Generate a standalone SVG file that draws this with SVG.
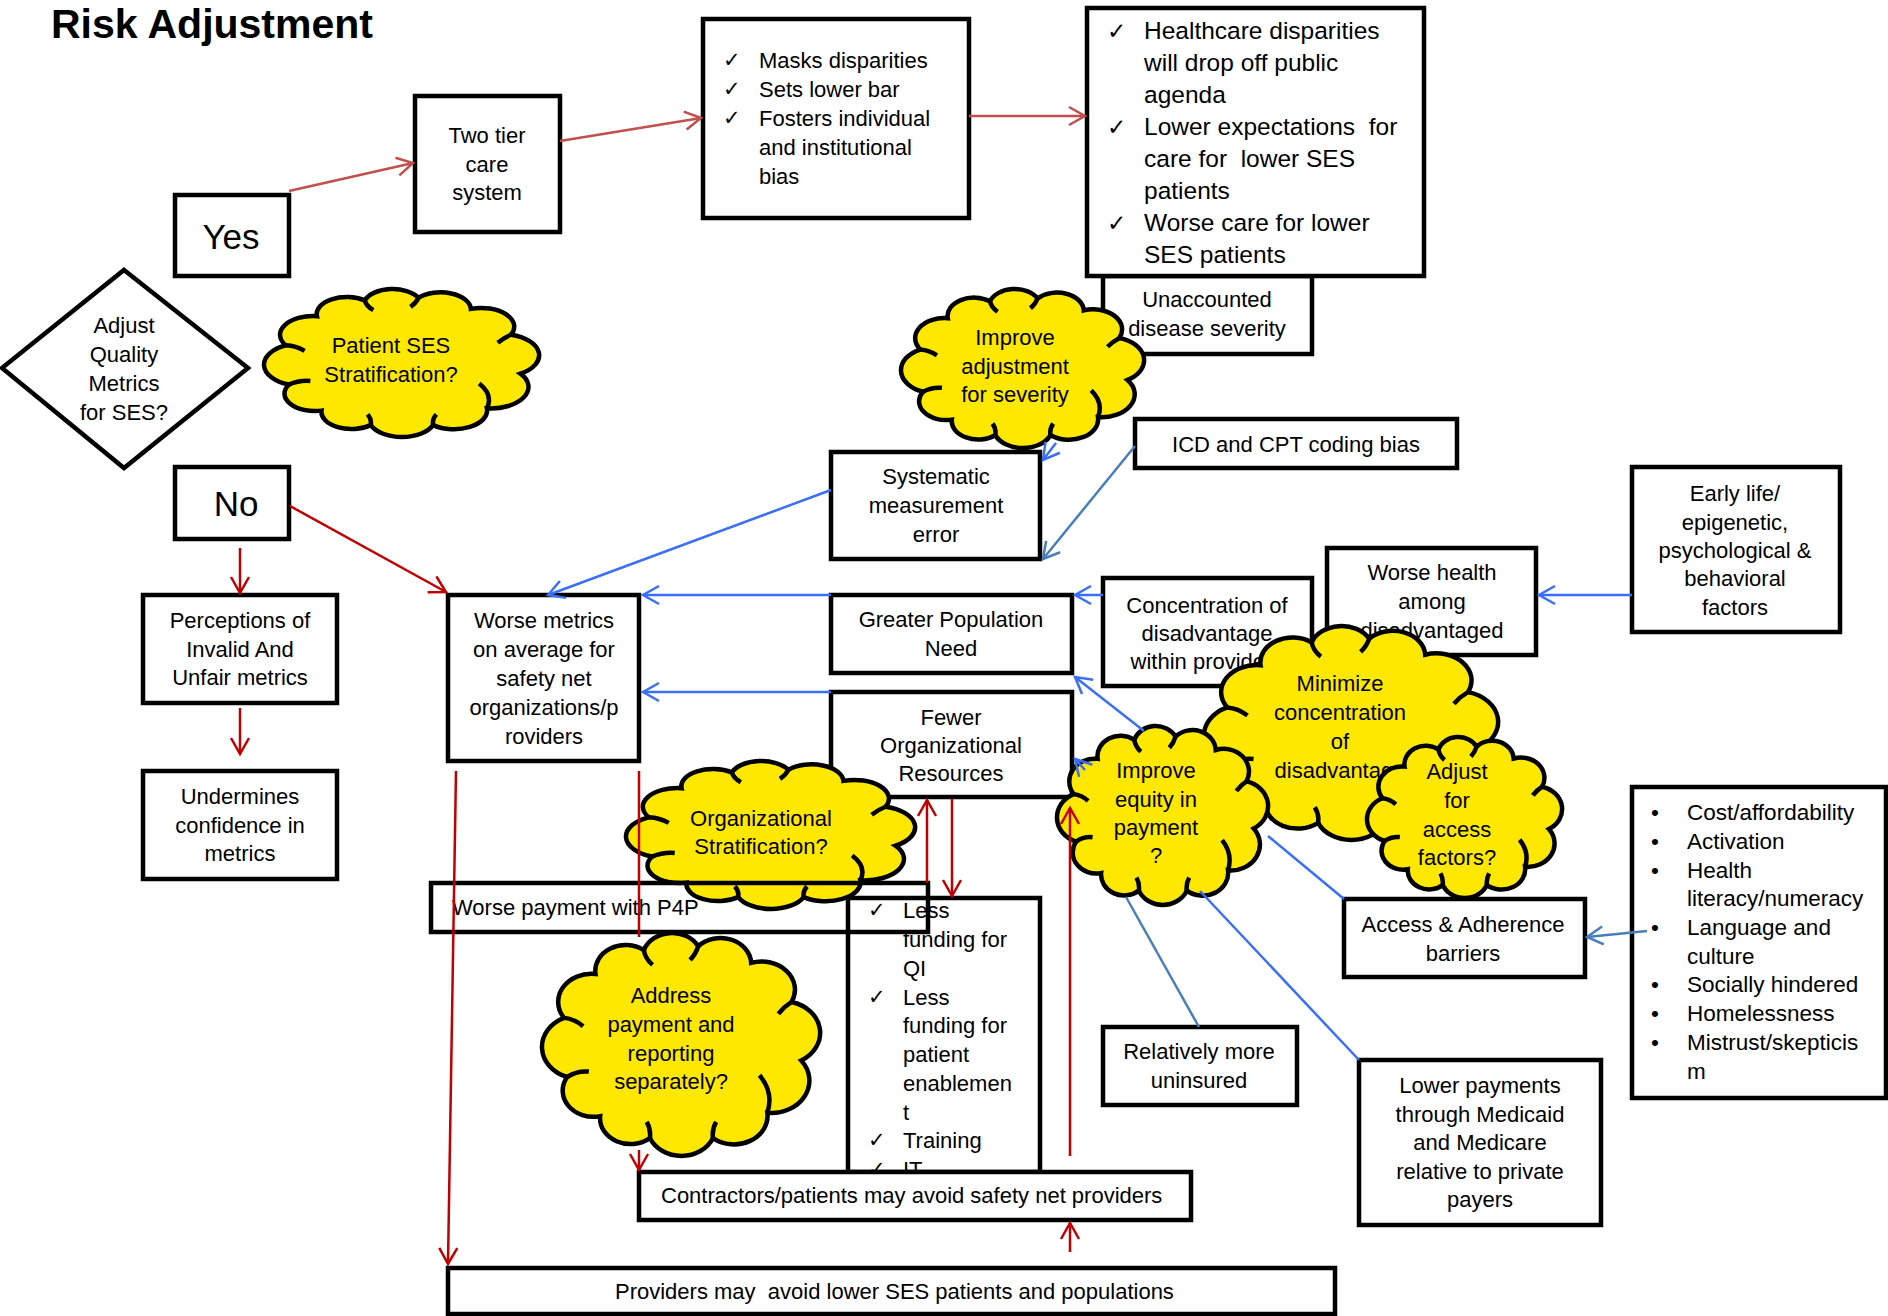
<svg xmlns="http://www.w3.org/2000/svg" xmlns:xlink="http://www.w3.org/1999/xlink" width="1888" height="1316" viewBox="0 0 1888 1316">
<style>
.box{fill:#fff;stroke:#000;stroke-width:4.5}
.open{fill:none;stroke:#000;stroke-width:4.5}
.t{font-family:"Liberation Sans",Arial,sans-serif;font-size:22px;fill:#000}
.c{text-anchor:middle}
.ck{font-family:"DejaVu Sans",sans-serif;font-size:23px}
.cl{fill:#ffe800;stroke:#000;stroke-width:4.5}
.tick{fill:none;stroke:#000;stroke-width:4.5;vector-effect:non-scaling-stroke}
.rl{fill:none;stroke:#c0504d;stroke-width:2.5}
.rd{fill:none;stroke:#c00000;stroke-width:2.5}
.bl{fill:none;stroke:#3a6ff7;stroke-width:2.5}
.st{fill:none;stroke:#4a7ebb;stroke-width:2.5}
</style>
<defs>
<marker id="aRL" markerUnits="userSpaceOnUse" viewBox="-19 -12 22 24" refX="0" refY="0" markerWidth="22" markerHeight="24" orient="auto"><path d="M-16,-9 L0,0 L-16,9" fill="none" stroke="#c0504d" stroke-width="2.5"/></marker>
<marker id="aRD" markerUnits="userSpaceOnUse" viewBox="-19 -12 22 24" refX="0" refY="0" markerWidth="22" markerHeight="24" orient="auto"><path d="M-16,-9 L0,0 L-16,9" fill="none" stroke="#c00000" stroke-width="2.5"/></marker>
<marker id="aBL" markerUnits="userSpaceOnUse" viewBox="-19 -12 22 24" refX="0" refY="0" markerWidth="22" markerHeight="24" orient="auto"><path d="M-16,-9 L0,0 L-16,9" fill="none" stroke="#3a6ff7" stroke-width="2.5"/></marker>
<marker id="aST" markerUnits="userSpaceOnUse" viewBox="-19 -12 22 24" refX="0" refY="0" markerWidth="22" markerHeight="24" orient="auto"><path d="M-16,-9 L0,0 L-16,9" fill="none" stroke="#4a7ebb" stroke-width="2.5"/></marker>
<symbol id="cloud" viewBox="1.8 5 96.1 90.9" preserveAspectRatio="none" overflow="visible">
<path class="cl" vector-effect="non-scaling-stroke" d="M10.5,63.7 A13,13 0 0 1 9.4,39.6 A11.5,11.5 0 0 1 20.3,21.7 A10.5,10.5 0 0 1 37,12 A10.3,10.3 0 0 1 55.8,10.4 A10.6,10.6 0 0 1 74.1,17.2 A11.5,11.5 0 0 1 88.1,33.1 A13,13 0 0 1 91.4,57 A13.2,13.2 0 0 1 79.7,78.3 A11.6,11.6 0 0 1 60.9,88.6 A11.8,11.8 0 0 1 39.1,88.6 A10.5,10.5 0 0 1 21.9,79.7 A10.7,10.7 0 0 1 10.5,63.7 Z"/>
<path class="tick" d="M9.4,39.6 Q13,40 16,43 M10.5,63.7 Q14,61 18,61.5 M37,12 Q37.5,15.5 40,18 M55.8,10.4 Q55,13.5 53,16 M88.1,33.1 Q85.5,35 83.5,38 M79.7,78.3 Q82,70 77,63 M60.9,88.6 Q60.5,85 62,82 M39.1,88.6 Q39.5,85 38,82"/>
</symbol>
</defs>
<rect width="1888" height="1316" fill="#fff"/>
<text x="51" y="38" style="font-family:'Liberation Sans',Arial,sans-serif;font-size:41px;font-weight:bold">Risk Adjustment</text>

<g id="unaccounted"><rect class="box" x="1103" y="276" width="209" height="78"/><text class="t c"><tspan x="1207" y="307">Unaccounted</tspan><tspan x="1207" y="336">disease severity</tspan></text></g>
<g id="healthcare"><rect class="box" x="1087" y="8" width="337" height="268"/>
<text class="ck"><tspan x="1107" y="39">✓</tspan><tspan x="1107" y="135">✓</tspan><tspan x="1107" y="231">✓</tspan></text>
<text class="t" style="font-size:24.5px;white-space:pre"><tspan x="1144" y="39">Healthcare disparities</tspan><tspan x="1144" y="71">will drop off public</tspan><tspan x="1144" y="103">agenda</tspan><tspan x="1144" y="135">Lower expectations  for</tspan><tspan x="1144" y="167">care for  lower SES</tspan><tspan x="1144" y="199">patients</tspan><tspan x="1144" y="231">Worse care for lower</tspan><tspan x="1144" y="263">SES patients</tspan></text></g>
<g id="yes"><rect class="box" x="175" y="195" width="114" height="81"/><text class="t c" style="font-size:35px" x="231" y="249">Yes</text></g>
<g id="two-tier"><rect class="box" x="415" y="96" width="145" height="136"/><text class="t c"><tspan x="487" y="143">Two tier</tspan><tspan x="487" y="172">care</tspan><tspan x="487" y="200">system</tspan></text></g>
<g id="masks"><rect class="box" x="703" y="19" width="266" height="199"/>
<text class="ck" style="font-size:21px"><tspan x="723" y="67">✓</tspan><tspan x="723" y="96">✓</tspan><tspan x="723" y="125">✓</tspan></text>
<text class="t"><tspan x="759" y="68">Masks disparities</tspan><tspan x="759" y="97">Sets lower bar</tspan><tspan x="759" y="126">Fosters individual</tspan><tspan x="759" y="155">and institutional</tspan><tspan x="759" y="184">bias</tspan></text></g>
<g id="decision"><polygon points="124,270 248,368 124,468 2,368" fill="#fff" stroke="#000" stroke-width="4.5"/><text class="t c"><tspan x="124" y="333">Adjust</tspan><tspan x="124" y="362">Quality</tspan><tspan x="124" y="391">Metrics</tspan><tspan x="124" y="420">for SES?</tspan></text></g>
<g id="no"><rect class="box" x="175" y="467" width="114" height="72"/><text class="t c" style="font-size:35px" x="236" y="516">No</text></g>
<g id="icd"><rect class="box" x="1135" y="419" width="322" height="49"/><text class="t c" x="1296" y="452">ICD and CPT coding bias</text></g>
<g id="systematic"><rect class="box" x="831" y="452" width="209" height="107"/><text class="t c"><tspan x="936" y="484">Systematic</tspan><tspan x="936" y="513">measurement</tspan><tspan x="936" y="542">error</tspan></text></g>
<g id="perceptions"><rect class="box" x="143" y="595" width="194" height="108"/><text class="t c"><tspan x="240" y="628">Perceptions of</tspan><tspan x="240" y="657">Invalid And</tspan><tspan x="240" y="685">Unfair metrics</tspan></text></g>
<g id="undermines"><rect class="box" x="143" y="771" width="194" height="108"/><text class="t c"><tspan x="240" y="804">Undermines</tspan><tspan x="240" y="833">confidence in</tspan><tspan x="240" y="861">metrics</tspan></text></g>
<g id="worse-metrics"><rect class="box" x="448" y="595" width="191" height="166"/><text class="t c"><tspan x="544" y="628">Worse metrics</tspan><tspan x="544" y="657">on average for</tspan><tspan x="544" y="686">safety net</tspan><tspan x="544" y="715">organizations/p</tspan><tspan x="544" y="744">roviders</tspan></text></g>
<g id="greater-pop"><rect class="box" x="831" y="595" width="241" height="78"/><text class="t c"><tspan x="951" y="627">Greater Population</tspan><tspan x="951" y="656">Need</tspan></text></g>
<g id="fewer"><rect class="box" x="831" y="692" width="241" height="105"/><text class="t c"><tspan x="951" y="725">Fewer</tspan><tspan x="951" y="753">Organizational</tspan><tspan x="951" y="781">Resources</tspan></text></g>
<g id="concentration"><rect class="box" x="1103" y="578" width="209" height="108"/><text class="t c"><tspan x="1207" y="613">Concentration of</tspan><tspan x="1207" y="641">disadvantage</tspan><tspan x="1207" y="669">within providers</tspan></text></g>
<g id="worse-health"><rect class="box" x="1327" y="548" width="209" height="107"/><text class="t c"><tspan x="1432" y="580">Worse health</tspan><tspan x="1432" y="609">among</tspan><tspan x="1432" y="638">disadvantaged</tspan></text></g>
<g id="early-life"><rect class="box" x="1632" y="467" width="208" height="165"/><text class="t c"><tspan x="1735" y="501">Early life/</tspan><tspan x="1735" y="530">epigenetic,</tspan><tspan x="1735" y="558">psychological &amp;</tspan><tspan x="1735" y="586">behavioral</tspan><tspan x="1735" y="615">factors</tspan></text></g>
<g id="access"><rect class="box" x="1344" y="899" width="241" height="78"/><text class="t c"><tspan x="1463" y="932">Access &amp; Adherence</tspan><tspan x="1463" y="961">barriers</tspan></text></g>
<g id="barrier-list"><rect class="box" x="1632" y="787" width="254" height="311"/>
<text class="t" style="font-size:22.5px"><tspan x="1651" y="820">•</tspan><tspan x="1651" y="849">•</tspan><tspan x="1651" y="878">•</tspan><tspan x="1651" y="935">•</tspan><tspan x="1651" y="992">•</tspan><tspan x="1651" y="1021">•</tspan><tspan x="1651" y="1050">•</tspan></text>
<text class="t" style="font-size:22.5px"><tspan x="1687" y="820">Cost/affordability</tspan><tspan x="1687" y="849">Activation</tspan><tspan x="1687" y="878">Health</tspan><tspan x="1687" y="906">literacy/numeracy</tspan><tspan x="1687" y="935">Language and</tspan><tspan x="1687" y="964">culture</tspan><tspan x="1687" y="992">Socially hindered</tspan><tspan x="1687" y="1021">Homelessness</tspan><tspan x="1687" y="1050">Mistrust/skepticis</tspan><tspan x="1687" y="1079">m</tspan></text></g>
<g id="uninsured"><rect class="box" x="1103" y="1027" width="194" height="78"/><text class="t c"><tspan x="1199" y="1059">Relatively more</tspan><tspan x="1199" y="1088">uninsured</tspan></text></g>
<g id="lower-payments"><rect class="box" x="1359" y="1060" width="242" height="165"/><text class="t c"><tspan x="1480" y="1093">Lower payments</tspan><tspan x="1480" y="1122">through Medicaid</tspan><tspan x="1480" y="1150">and Medicare</tspan><tspan x="1480" y="1179">relative to private</tspan><tspan x="1480" y="1207">payers</tspan></text></g>
<g id="less-funding"><rect class="box" x="848" y="898" width="192" height="274"/>
<text class="ck" style="font-size:21px"><tspan x="868" y="917">✓</tspan><tspan x="868" y="1004">✓</tspan><tspan x="868" y="1147">✓</tspan><tspan x="868" y="1176">✓</tspan></text>
<text class="t"><tspan x="903" y="918">Less</tspan><tspan x="903" y="947">funding for</tspan><tspan x="903" y="976">QI</tspan><tspan x="903" y="1005">Less</tspan><tspan x="903" y="1033">funding for</tspan><tspan x="903" y="1062">patient</tspan><tspan x="903" y="1091">enablemen</tspan><tspan x="903" y="1120">t</tspan><tspan x="903" y="1148">Training</tspan><tspan x="903" y="1177">IT</tspan></text></g>
<g id="contractors"><rect class="box" x="639" y="1172" width="552" height="48"/><text class="t" x="661" y="1203">Contractors/patients may avoid safety net providers</text></g>
<g id="providers"><rect class="box" x="448" y="1268" width="887" height="46"/><text class="t" x="615" y="1299" style="white-space:pre">Providers may  avoid lower SES patients and populations</text></g>

<g id="cloud-patient-ses"><use xlink:href="#cloud" href="#cloud" x="264" y="289" width="275" height="148"/><text class="t c"><tspan x="391" y="353">Patient SES</tspan><tspan x="391" y="382">Stratification?</tspan></text></g>
<g id="cloud-improve-adjustment"><use xlink:href="#cloud" href="#cloud" x="901" y="289" width="243" height="159"/><text class="t c"><tspan x="1015" y="345">Improve</tspan><tspan x="1015" y="374">adjustment</tspan><tspan x="1015" y="402">for severity</tspan></text></g>
<g id="cloud-org-strat"><use xlink:href="#cloud" href="#cloud" x="626" y="761" width="289" height="148"/><text class="t c"><tspan x="761" y="826">Organizational</tspan><tspan x="761" y="854">Stratification?</tspan></text></g>
<g id="cloud-minimize"><use xlink:href="#cloud" href="#cloud" x="1204" y="626" width="294" height="214"/><text class="t c"><tspan x="1340" y="691">Minimize</tspan><tspan x="1340" y="720">concentration</tspan><tspan x="1340" y="749">of</tspan><tspan x="1340" y="778">disadvantage</tspan></text></g>
<g id="cloud-equity"><use xlink:href="#cloud" href="#cloud" x="1057" y="726" width="211" height="179"/><text class="t c"><tspan x="1156" y="778">Improve</tspan><tspan x="1156" y="807">equity in</tspan><tspan x="1156" y="835">payment</tspan><tspan x="1156" y="863">?</tspan></text></g>
<g id="cloud-access"><use xlink:href="#cloud" href="#cloud" x="1367" y="737" width="195" height="161"/><text class="t c"><tspan x="1457" y="779">Adjust</tspan><tspan x="1457" y="808">for</tspan><tspan x="1457" y="837">access</tspan><tspan x="1457" y="865">factors?</tspan></text></g>
<g id="cloud-address"><use xlink:href="#cloud" href="#cloud" x="542" y="933" width="278" height="223"/><text class="t c"><tspan x="671" y="1003">Address</tspan><tspan x="671" y="1032">payment and</tspan><tspan x="671" y="1061">reporting</tspan><tspan x="671" y="1089">separately?</tspan></text></g>
<g id="p4p"><rect class="open" x="431" y="883" width="497" height="49"/><text class="t" x="452" y="915">Worse payment with P4P</text></g>

<g id="connectors">
<line class="rl" x1="289" y1="191" x2="413" y2="163" marker-end="url(#aRL)"/>
<line class="rl" x1="560" y1="141" x2="701" y2="118" marker-end="url(#aRL)"/>
<line class="rl" x1="969" y1="116" x2="1085" y2="116" marker-end="url(#aRL)"/>
<line class="rd" x1="240" y1="548" x2="240" y2="593" marker-end="url(#aRD)"/>
<line class="rd" x1="240" y1="708" x2="240" y2="754" marker-end="url(#aRD)"/>
<line class="rd" x1="290" y1="506" x2="446" y2="592" marker-end="url(#aRD)"/>
<line class="rd" x1="456" y1="771" x2="448" y2="1264" marker-end="url(#aRD)"/>
<line class="rd" x1="639" y1="771" x2="639" y2="937"/>
<line class="rd" x1="639" y1="1150" x2="639" y2="1170" marker-end="url(#aRD)"/>
<line class="rd" x1="927" y1="883" x2="927" y2="800" marker-end="url(#aRD)"/>
<line class="rd" x1="952" y1="799" x2="952" y2="896" marker-end="url(#aRD)"/>
<line class="rd" x1="1070" y1="1156" x2="1070" y2="808" marker-end="url(#aRD)"/>
<line class="rd" x1="1070" y1="1252" x2="1070" y2="1223" marker-end="url(#aRD)"/>
<line class="bl" x1="831" y1="490" x2="548" y2="595" marker-end="url(#aBL)"/>
<line class="bl" x1="831" y1="595" x2="643" y2="595" marker-end="url(#aBL)"/>
<line class="bl" x1="831" y1="692" x2="643" y2="692" marker-end="url(#aBL)"/>
<line class="bl" x1="1103" y1="595" x2="1075" y2="595" marker-end="url(#aBL)"/>
<line class="bl" x1="1632" y1="595" x2="1539" y2="595" marker-end="url(#aBL)"/>
<line class="bl" x1="1344" y1="899" x2="1268" y2="836"/>
<line class="bl" x1="1144" y1="731" x2="1075" y2="677" marker-end="url(#aBL)"/>
<line class="bl" x1="1359" y1="1060" x2="1200" y2="891"/>
<line class="bl" x1="1085" y1="770" x2="1075" y2="759" marker-end="url(#aBL)"/>
<line class="st" x1="1199" y1="1027" x2="1126" y2="897"/>
<line class="st" x1="1135" y1="446" x2="1043" y2="559" marker-end="url(#aST)"/>
<line class="bl" x1="1056" y1="443" x2="1043" y2="460" marker-end="url(#aBL)"/>
<line class="st" x1="1647" y1="931" x2="1587" y2="937" marker-end="url(#aST)"/>
</g>
</svg>
